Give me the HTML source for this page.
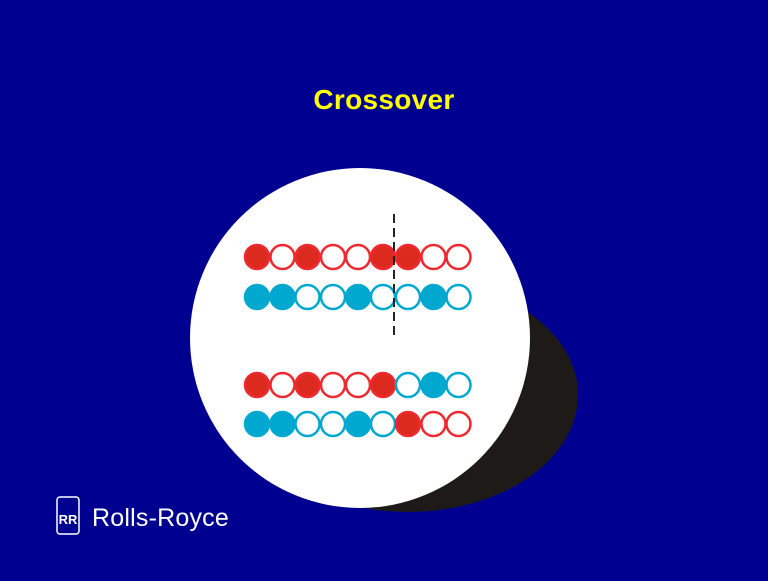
<!DOCTYPE html>
<html><head><style>
body{margin:0;background:#000090;width:768px;height:576px;overflow:hidden}
</style></head><body>
<svg width="768" height="576" xmlns="http://www.w3.org/2000/svg">
<rect width="768" height="576" fill="#000090"/>
<text x="384" y="109" text-anchor="middle" font-family="Liberation Sans, sans-serif" font-weight="bold" font-size="28" fill="#ffff00" letter-spacing="0.3">Crossover</text>
<ellipse cx="408" cy="395" rx="170" ry="117" fill="#1e1a18"/>
<circle cx="360" cy="338" r="170" fill="#fff"/>
<g stroke-width="2.5">
<g stroke="#ee2a30">
<circle cx="257" cy="257" r="12" fill="#dc2a1e"/><circle cx="282.5" cy="257" r="12" fill="#fff"/><circle cx="307.5" cy="257" r="12" fill="#dc2a1e"/><circle cx="333" cy="257" r="12" fill="#fff"/><circle cx="358" cy="257" r="12" fill="#fff"/><circle cx="383" cy="257" r="12" fill="#dc2a1e"/><circle cx="408" cy="257" r="12" fill="#dc2a1e"/><circle cx="433.5" cy="257" r="12" fill="#fff"/><circle cx="458.5" cy="257" r="12" fill="#fff"/>
</g>
<g stroke="#00a8d0">
<circle cx="257" cy="297" r="12" fill="#00a8d0"/><circle cx="282.5" cy="297" r="12" fill="#00a8d0"/><circle cx="307.5" cy="297" r="12" fill="#fff"/><circle cx="333" cy="297" r="12" fill="#fff"/><circle cx="358" cy="297" r="12" fill="#00a8d0"/><circle cx="383" cy="297" r="12" fill="#fff"/><circle cx="408" cy="297" r="12" fill="#fff"/><circle cx="433.5" cy="297" r="12" fill="#00a8d0"/><circle cx="458.5" cy="297" r="12" fill="#fff"/>
</g>
<g stroke="#ee2a30">
<circle cx="257" cy="385" r="12" fill="#dc2a1e"/><circle cx="282.5" cy="385" r="12" fill="#fff"/><circle cx="307.5" cy="385" r="12" fill="#dc2a1e"/><circle cx="333" cy="385" r="12" fill="#fff"/><circle cx="358" cy="385" r="12" fill="#fff"/><circle cx="383" cy="385" r="12" fill="#dc2a1e"/>
</g>
<g stroke="#00a8d0">
<circle cx="408" cy="385" r="12" fill="#fff"/><circle cx="433.5" cy="385" r="12" fill="#00a8d0"/><circle cx="458.5" cy="385" r="12" fill="#fff"/>
<circle cx="257" cy="424" r="12" fill="#00a8d0"/><circle cx="282.5" cy="424" r="12" fill="#00a8d0"/><circle cx="307.5" cy="424" r="12" fill="#fff"/><circle cx="333" cy="424" r="12" fill="#fff"/><circle cx="358" cy="424" r="12" fill="#00a8d0"/><circle cx="383" cy="424" r="12" fill="#fff"/>
</g>
<g stroke="#ee2a30">
<circle cx="408" cy="424" r="12" fill="#dc2a1e"/><circle cx="433.5" cy="424" r="12" fill="#fff"/><circle cx="458.5" cy="424" r="12" fill="#fff"/>
</g>
</g>
<line x1="394" y1="214" x2="394" y2="338" stroke="#222" stroke-width="2" stroke-dasharray="9,5"/>
<rect x="57" y="497" width="22" height="37" rx="3" fill="none" stroke="#fff" stroke-width="1.5"/>
<text x="68" y="524" text-anchor="middle" font-family="Liberation Sans, sans-serif" font-size="13" font-weight="bold" fill="#fff">RR</text>
<text x="92" y="526" font-family="Liberation Sans, sans-serif" font-size="25" fill="#fff" letter-spacing="0.2">Rolls-Royce</text>
</svg>
</body></html>
